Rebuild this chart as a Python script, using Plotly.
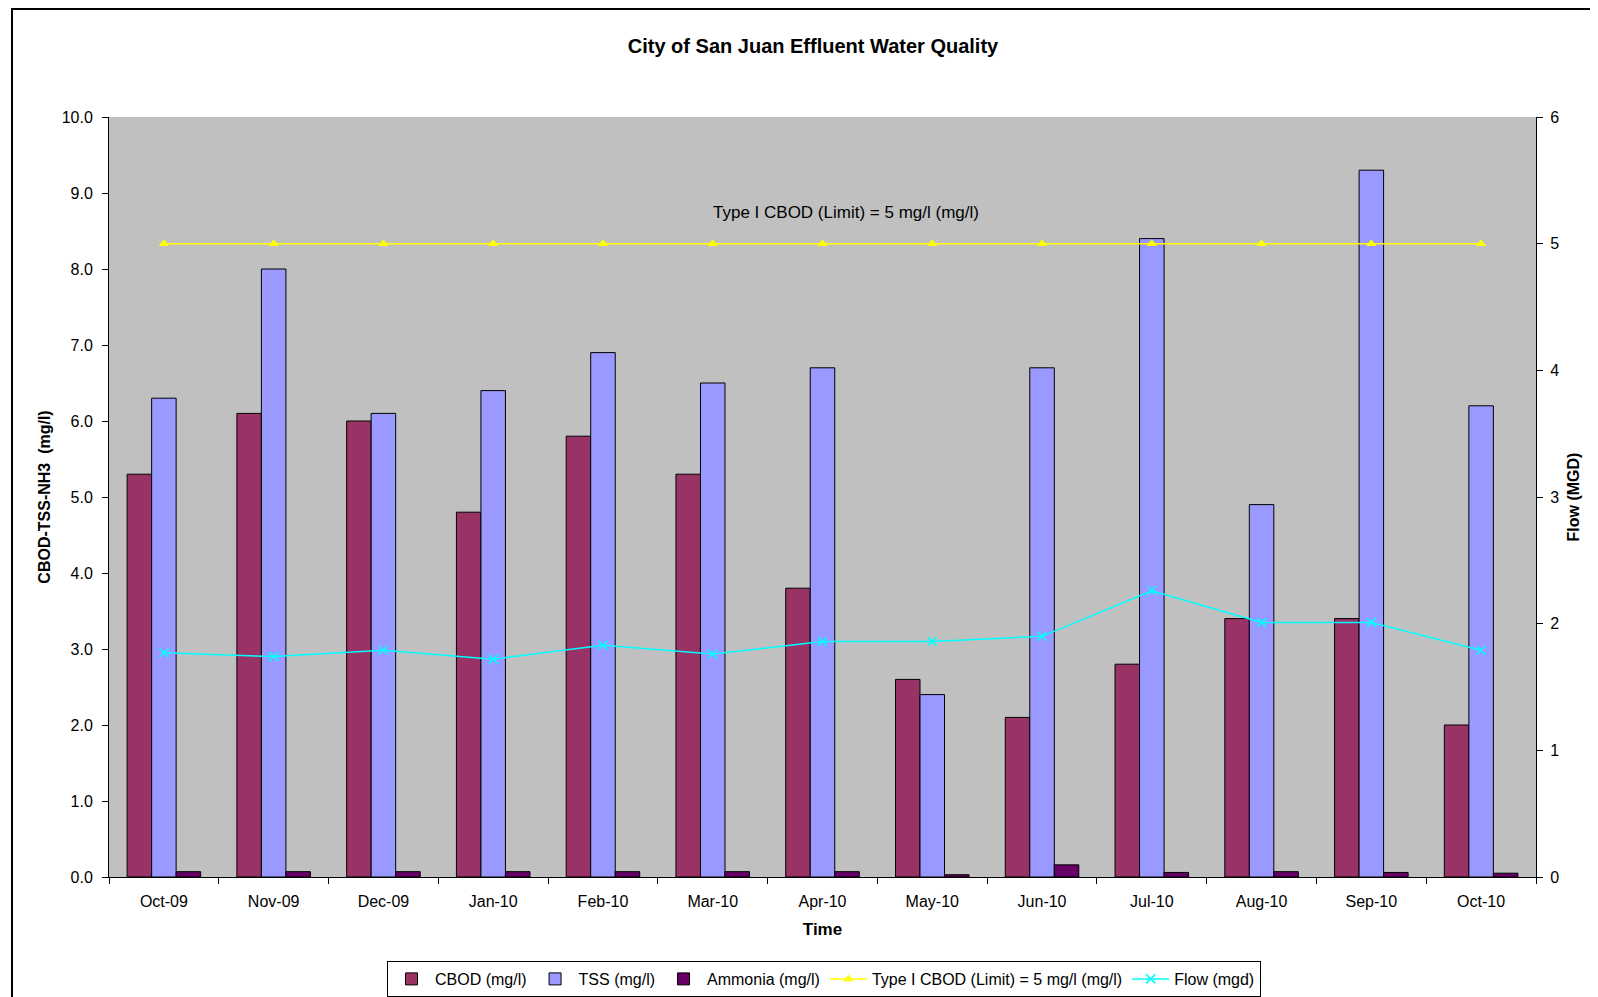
import plotly.graph_objects as go

months = ["Oct-09", "Nov-09", "Dec-09", "Jan-10", "Feb-10", "Mar-10", "Apr-10",
          "May-10", "Jun-10", "Jul-10", "Aug-10", "Sep-10", "Oct-10"]
cbod = [5.3, 6.1, 6.0, 4.8, 5.8, 5.3, 3.8, 2.6, 2.1, 2.8, 3.4, 3.4, 2.0]
tss = [6.3, 8.0, 6.1, 6.4, 6.9, 6.5, 6.7, 2.4, 6.7, 8.4, 4.9, 9.3, 6.2]
ammonia = [0.07, 0.07, 0.07, 0.07, 0.07, 0.07, 0.07, 0.03, 0.16, 0.06, 0.07, 0.06, 0.05]
limit = [5, 5, 5, 5, 5, 5, 5, 5, 5, 5, 5, 5, 5]
flow = [1.77, 1.74, 1.79, 1.72, 1.83, 1.76, 1.86, 1.86, 1.90, 2.26, 2.01, 2.01, 1.79]

FONT = "Liberation Sans, Arial, sans-serif"
OFF = 8  # page body margin
L, R, T, B = 109 - OFF, 1536 - OFF, 117 - OFF, 877 - OFF
PW, PH = R - L, B - T

fig = go.Figure()
fig.add_trace(go.Bar(x=months, y=cbod, name="CBOD (mg/l)",
                     marker=dict(color="#993366", line=dict(color="black", width=1))))
fig.add_trace(go.Bar(x=months, y=tss, name="TSS (mg/l)",
                     marker=dict(color="#9999FF", line=dict(color="black", width=1))))
fig.add_trace(go.Bar(x=months, y=ammonia, name="Ammonia (mg/l)",
                     marker=dict(color="#660066", line=dict(color="black", width=1))))
fig.add_trace(go.Scatter(x=months, y=limit, name="Type I CBOD (Limit) = 5 mg/l (mg/l)",
                         yaxis="y2", mode="lines+markers",
                         line=dict(color="#FFFF00", width=1.5),
                         marker=dict(symbol="triangle-up", size=9, color="#FFFF00")))
fig.add_trace(go.Scatter(x=months, y=flow, name="Flow (mgd)",
                         yaxis="y2", mode="lines+markers",
                         line=dict(color="#00FFFF", width=1.5),
                         marker=dict(symbol="x-thin", size=9, color="#00FFFF",
                                     line=dict(color="#00FFFF", width=1.5))))

fig.update_layout(
    width=1598, height=997,
    paper_bgcolor="white", plot_bgcolor="#C0C0C0",
    margin=dict(l=L, r=1598 - R, t=T, b=997 - B, autoexpand=False),
    font=dict(family=FONT, size=16, color="black"),
    barmode="group", bargap=0.33, bargroupgap=0,
    title=dict(text="<b>City of San Juan Effluent Water Quality</b>",
               x=(813 - OFF) / 1598, xanchor="center", y=1 - (46 - OFF) / 997, yanchor="middle",
               font=dict(family=FONT, size=20, color="black")),
    xaxis=dict(title=dict(text="<b>Time</b>", font=dict(size=17), standoff=13),
               type="category", range=[-0.5, 12.5], showgrid=False, showline=True,
               linecolor="black", linewidth=1, ticks="outside", ticklen=6,
               tickcolor="black", tickson="boundaries", tickfont=dict(size=16),
               ticklabelstandoff=10),
    yaxis=dict(title=dict(text="<b>CBOD-TSS-NH3  (mg/l)</b>", font=dict(size=16), standoff=7),
               range=[0, 10], dtick=1, tickformat=".1f", showgrid=False,
               showline=True, linecolor="black", linewidth=1, ticks="outside",
               ticklen=6, tickcolor="black", zeroline=False, tickfont=dict(size=16),
               ticklabelstandoff=6),
    yaxis2=dict(title=dict(text="<b>Flow (MGD)</b>", font=dict(size=16), standoff=9),
                range=[0, 6], dtick=1, overlaying="y", side="right", showgrid=False,
                showline=True, linecolor="black", linewidth=1, ticks="outside",
                ticklen=6, tickcolor="black", zeroline=False, tickfont=dict(size=16),
                ticklabelstandoff=4),
    legend=dict(orientation="h", x=(824 - OFF - L) / PW, xanchor="center",
                y=-(961 - 877) / PH, yanchor="top",
                bordercolor="black", borderwidth=1, bgcolor="white",
                font=dict(size=16), traceorder="normal", itemwidth=37),
    showlegend=True,
)

fig.add_annotation(text="Type I CBOD (Limit) = 5 mg/l (mg/l)", xref="paper", yref="y2",
                   x=(846 - 109) / 1427, y=5.25, showarrow=False,
                   font=dict(size=17, color="black"))

fig.add_shape(type="rect", xref="paper", yref="paper",
              x0=(12 - 109) / PW, x1=1.1, y0=-0.2, y1=(B - 1) / PH,
              line=dict(color="black", width=2), fillcolor="rgba(0,0,0,0)", layer="below")

fig.write_html("out.html")
